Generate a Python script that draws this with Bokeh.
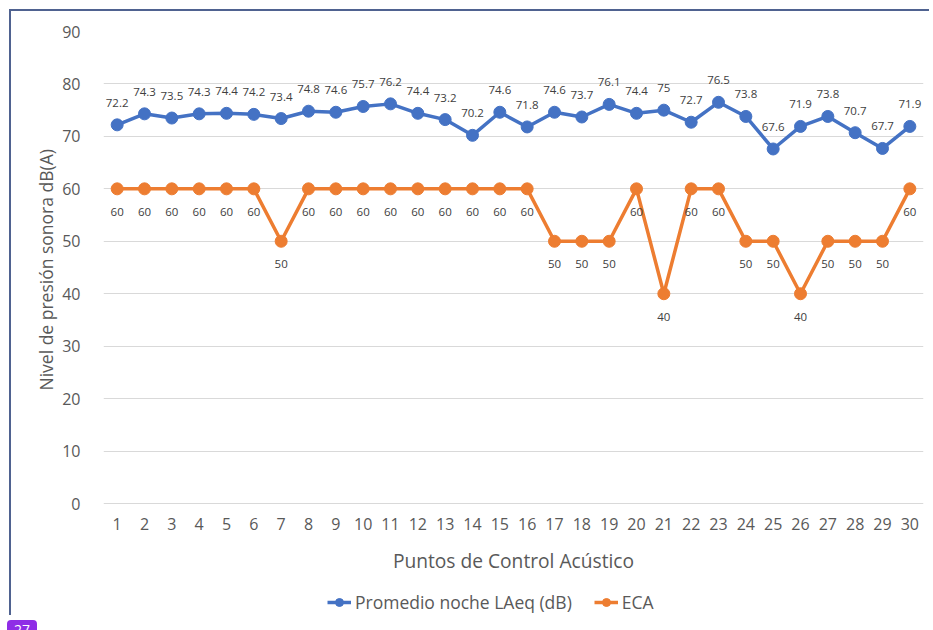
from bokeh.plotting import figure
from bokeh.models import (ColumnDataSource, Range1d, FixedTicker, LabelSet, Legend,
                          LegendItem, Div, Title)
from bokeh.layouts import column
from bokeh.core.properties import value
from bokeh.embed import file_html
from bokeh.resources import INLINE

# ---- data ----
puntos = list(range(1, 31))
promedio_noche = [72.2, 74.3, 73.5, 74.3, 74.4, 74.2, 73.4, 74.8, 74.6, 75.7,
                  76.2, 74.4, 73.2, 70.2, 74.6, 71.8, 74.6, 73.7, 76.1, 74.4,
                  75.0, 72.7, 76.5, 73.8, 67.6, 71.9, 73.8, 70.7, 67.7, 71.9]
eca = [60, 60, 60, 60, 60, 60, 50, 60, 60, 60,
       60, 60, 60, 60, 60, 60, 50, 50, 50, 60,
       40, 60, 60, 50, 50, 40, 50, 50, 50, 60]
y_ticks = [0, 10, 20, 30, 40, 50, 60, 70, 80, 90]
serie_1 = "Promedio noche LAeq (dB)"
serie_2 = "ECA"
x_title = "Puntos de Control Acústico"
y_title = "Nivel de presión sonora dB(A)"
page_number = "27"

BLUE = "#4472C4"
ORANGE = "#ED7D31"
FONT = "Open Sans"
GREY = "#595959"
FRAME = "#4f6290"

# layout (pixels)
CANVAS_H = 606
TOP = 20                 # canvas top -> y=90 gridline
PLOT_H = 472             # y=90 -> y=0
Y_MAX = 90
# the frame runs down to the canvas bottom so that the x axis, its title and
# the legend can sit inside it below y = 0
y_min = -Y_MAX * (CANVAS_H - TOP - PLOT_H) / PLOT_H


def fmt(v):
    return f"{v:g}"


src = ColumnDataSource(dict(
    x=puntos,
    prom=promedio_noche,
    eca=eca,
    prom_lbl=[fmt(v) for v in promedio_noche],
    eca_lbl=[fmt(v) for v in eca],
))

p = figure(width=920, height=CANVAS_H, output_backend="svg", toolbar_location=None,
           x_range=Range1d(0.5, 30.5), y_range=Range1d(y_min, Y_MAX),
           min_border_left=92, min_border_right=8, min_border_top=TOP,
           min_border_bottom=0)
p.margin = (9, 0, 0, 9)
p.styles = {"border-top": f"2px solid {FRAME}", "border-left": f"2px solid {FRAME}"}
p.outline_line_color = None
p.background_fill_color = "white"
p.border_fill_color = "white"

# grid
p.xgrid.grid_line_color = None
p.ygrid.grid_line_color = "#d9d9d9"
p.ygrid.grid_line_width = 1

# axes
for ax in (p.xaxis[0], p.yaxis[0]):
    ax.axis_line_color = None
    ax.major_tick_line_color = None
    ax.minor_tick_line_color = None
    ax.major_label_text_font = FONT
    ax.major_label_text_font_size = "16px"
    ax.major_label_text_color = GREY
    ax.axis_label_text_font = FONT
    ax.axis_label_text_font_style = "normal"
    ax.axis_label_text_color = GREY

p.xaxis.ticker = FixedTicker(ticks=puntos)
p.xaxis.fixed_location = 0
p.xaxis.major_label_standoff = 8
p.xaxis.axis_label = x_title
p.xaxis.axis_label_text_font_size = "19.2px"
p.xaxis.axis_label_standoff = 14

p.yaxis.ticker = FixedTicker(ticks=y_ticks)
p.yaxis.major_label_standoff = 17

# y title: starts (bottom) level with the plot's lower part, like the reference
y_lab = Title(text=y_title, align="left", offset=227, text_font=FONT,
              text_font_size="17.5px", text_font_style="normal",
              text_color=GREY, standoff=4)
p.add_layout(y_lab, "left")

# series
l1 = p.line("x", "prom", source=src, line_color=BLUE, line_width=3.5)
s1 = p.scatter("x", "prom", source=src, size=12, fill_color=BLUE, line_color=BLUE)
l2 = p.line("x", "eca", source=src, line_color=ORANGE, line_width=3.5)
s2 = p.scatter("x", "eca", source=src, size=12, fill_color=ORANGE, line_color=ORANGE)

lab1 = LabelSet(x="x", y="prom", text="prom_lbl", source=src, text_align="center",
                text_baseline="middle", y_offset=22, text_font=value(FONT),
                text_font_size="11.5px", text_color="#404040")
lab2 = LabelSet(x="x", y="eca", text="eca_lbl", source=src, text_align="center",
                text_baseline="middle", y_offset=-23, text_font=value(FONT),
                text_font_size="11.5px", text_color="#404040")
p.add_layout(lab1)
p.add_layout(lab2)

legend = Legend(items=[LegendItem(label=serie_1, renderers=[l1, s1]),
                       LegendItem(label=serie_2, renderers=[l2, s2])],
                location=(224, 3), orientation="horizontal",
                glyph_width=24, glyph_height=20, label_standoff=4, spacing=22,
                padding=0, margin=0, border_line_color=None,
                background_fill_alpha=0, label_text_font=FONT,
                label_text_font_size="17.5px", label_text_color=GREY)
p.add_layout(legend, "center")

badge = Div(text=page_number, width=30, height=13,
            styles={"margin-left": "7px", "background-color": "#8f2de6",
                    "color": "white", "border-radius": "4px 4px 0 0",
                    "font-family": "Open Sans", "font-size": "14px",
                    "line-height": "20px", "text-align": "center",
                    "overflow": "hidden"})

layout = column(p, badge, spacing=0)

open("out.html", "w").write(file_html(layout, INLINE))
